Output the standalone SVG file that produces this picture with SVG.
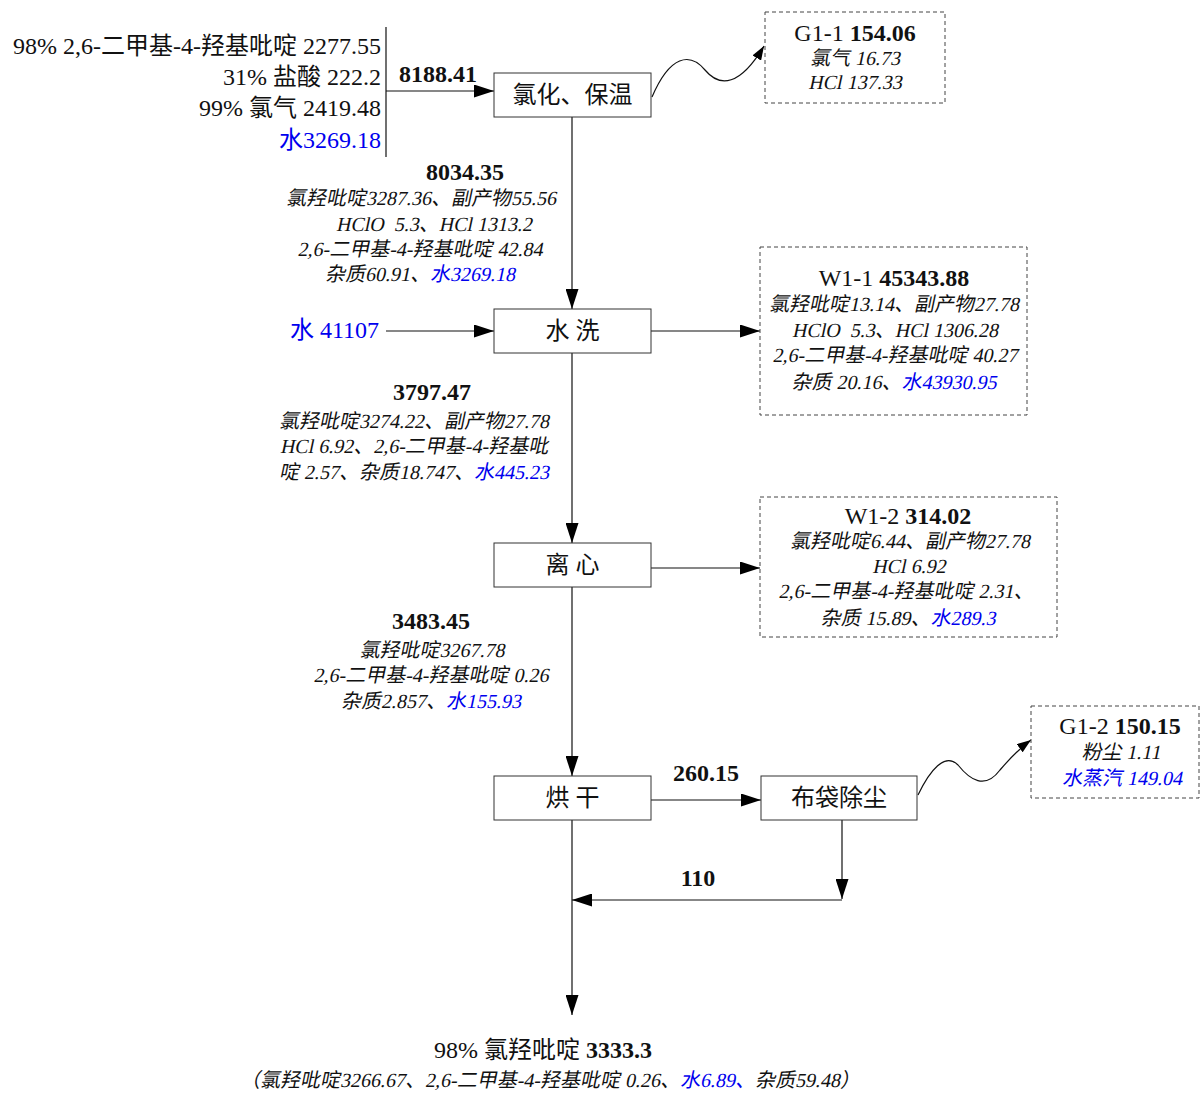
<svg xmlns="http://www.w3.org/2000/svg" width="1201" height="1093" viewBox="0 0 1201 1093">
<style>
text{font-family:"Liberation Serif","Noto Sans CJK SC",serif;fill:#111}
.big{font-size:24px}
.num{font-size:24px;font-weight:bold}
.it{font-size:20px}
.c{text-anchor:middle}
.r{text-anchor:end}
.b{fill:#0000ee}
.bold{font-weight:bold}
.box{fill:#fff;stroke:#333;stroke-width:1}
.dbox{fill:#fff;stroke:#444;stroke-width:1;stroke-dasharray:4 3}
.ln{fill:none;stroke:#111;stroke-width:1.2}
</style>
<defs>
<marker id="ar" markerUnits="userSpaceOnUse" markerWidth="20" markerHeight="13" refX="20" refY="6.5" orient="auto">
<path d="M0,0 L20,6.5 L0,13 z" fill="#000"/>
</marker>
<marker id="ars" markerUnits="userSpaceOnUse" markerWidth="14" markerHeight="10" refX="14" refY="5" orient="auto">
<path d="M0,0 L14,5 L0,10 z" fill="#000"/>
</marker>
</defs>
<g id="connectors">
<path class="ln" d="M386,27 V157"/>
<path class="ln" d="M386,91 H494" marker-end="url(#ar)"/>
<path class="ln" d="M572,117 V309" marker-end="url(#ar)"/>
<path class="ln" d="M386,331 H494" marker-end="url(#ar)"/>
<path class="ln" d="M651,331 H760" marker-end="url(#ar)"/>
<path class="ln" d="M572,353 V543" marker-end="url(#ar)"/>
<path class="ln" d="M651,568 H760" marker-end="url(#ar)"/>
<path class="ln" d="M572,587 V776" marker-end="url(#ar)"/>
<path class="ln" d="M651,800 H761" marker-end="url(#ar)"/>
<path class="ln" d="M842,820 V899" marker-end="url(#ar)"/>
<path class="ln" d="M842,900 H572" marker-end="url(#ar)"/>
<path class="ln" d="M572,820 V1015" marker-end="url(#ar)"/>
<path class="ln" d="M652,97 C670,55 690,52 705,70 C720,88 740,86 764,46" marker-end="url(#ars)"/>
<path class="ln" d="M918,795 C930,770 945,752 958,765 C970,780 985,790 1000,770 C1012,756 1020,748 1031,740" marker-end="url(#ars)"/>
</g>
<g id="inputs">
<text class="big r" x="381" y="54">98% 2,6-二甲基-4-羟基吡啶 2277.55</text>
<text class="big r" x="381" y="85">31% 盐酸 222.2</text>
<text class="big r" x="381" y="116">99% 氯气 2419.48</text>
<text class="big r b" x="381" y="148">水3269.18</text>
<text class="num c" x="438" y="82">8188.41</text>
</g>
<g id="n_chlorination">
<rect class="box" x="494" y="73" width="157" height="44"/>
<text class="big c" x="572.5" y="103">氯化、保温</text>
</g>
<g id="n_G1-1">
<rect class="dbox" x="765" y="12" width="180" height="91"/>
<text class="big c" x="855" y="41">G1-1 <tspan class="bold">154.06</tspan></text>
<text class="it c" transform="translate(855,65) skewX(-12)">氯气 16.73</text>
<text class="it c" transform="translate(855,89) skewX(-12)">HCl 137.33</text>
</g>
<g id="l_8034">
<text class="num c" x="465" y="180">8034.35</text>
<text class="it c" transform="translate(421,205) skewX(-12)">氯羟吡啶3287.36、副产物55.56</text>
<text class="it c" transform="translate(434,231) skewX(-12)">HClO&#160; 5.3、HCl 1313.2</text>
<text class="it c" transform="translate(420,256) skewX(-12)">2,6-二甲基-4-羟基吡啶 42.84</text>
<text class="it c" transform="translate(420,281) skewX(-12)">杂质60.91、<tspan class="b">水3269.18</tspan></text>
</g>
<g id="n_water_in">
<text class="big r b" x="379" y="338">水 41107</text>
</g>
<g id="n_wash">
<rect class="box" x="494" y="309" width="157" height="44"/>
<text class="big c" x="572.5" y="339">水 洗</text>
</g>
<g id="n_W1-1">
<rect class="dbox" x="760" y="247" width="267" height="168"/>
<text class="big c" x="894" y="286">W1-1 <tspan class="bold">45343.88</tspan></text>
<text class="it c" transform="translate(894,311) skewX(-12)">氯羟吡啶13.14、副产物27.78</text>
<text class="it c" transform="translate(895,337) skewX(-12)">HClO&#160; 5.3、HCl 1306.28</text>
<text class="it c" transform="translate(895,362) skewX(-12)">2,6-二甲基-4-羟基吡啶 40.27</text>
<text class="it c" transform="translate(894,389) skewX(-12)">杂质 20.16、<tspan class="b">水43930.95</tspan></text>
</g>
<g id="l_3797">
<text class="num c" x="432" y="400">3797.47</text>
<text class="it c" transform="translate(414,428) skewX(-12)">氯羟吡啶3274.22、副产物27.78</text>
<text class="it c" transform="translate(414,453) skewX(-12)">HCl 6.92、2,6-二甲基-4-羟基吡</text>
<text class="it c" transform="translate(414,479) skewX(-12)">啶 2.57、杂质18.747、<tspan class="b">水445.23</tspan></text>
</g>
<g id="n_centrifuge">
<rect class="box" x="494" y="543" width="157" height="44"/>
<text class="big c" x="572.5" y="573">离 心</text>
</g>
<g id="n_W1-2">
<rect class="dbox" x="760" y="497" width="297" height="140"/>
<text class="big c" x="908" y="524">W1-2 <tspan class="bold">314.02</tspan></text>
<text class="it c" transform="translate(910,548) skewX(-12)">氯羟吡啶6.44、副产物27.78</text>
<text class="it c" transform="translate(909,573) skewX(-12)">HCl 6.92</text>
<text class="it c" transform="translate(906,598) skewX(-12)">2,6-二甲基-4-羟基吡啶 2.31、</text>
<text class="it c" transform="translate(908,625) skewX(-12)">杂质 15.89、<tspan class="b">水289.3</tspan></text>
</g>
<g id="l_3483">
<text class="num c" x="431" y="629">3483.45</text>
<text class="it c" transform="translate(432,657) skewX(-12)">氯羟吡啶3267.78</text>
<text class="it c" transform="translate(431,682) skewX(-12)">2,6-二甲基-4-羟基吡啶 0.26</text>
<text class="it c" transform="translate(431,708) skewX(-12)">杂质2.857、<tspan class="b">水155.93</tspan></text>
</g>
<g id="n_dry">
<rect class="box" x="494" y="776" width="157" height="44"/>
<text class="big c" x="572.5" y="806">烘 干</text>
</g>
<g id="n_bag">
<rect class="box" x="761" y="776" width="156" height="44"/>
<text class="big c" x="839" y="806">布袋除尘</text>
</g>
<g id="l_260">
<text class="num c" x="706" y="781">260.15</text>
<text class="num c" x="698" y="886">110</text>
</g>
<g id="n_G1-2">
<rect class="dbox" x="1031" y="706" width="168" height="92"/>
<text class="big c" x="1120" y="734">G1-2 <tspan class="bold">150.15</tspan></text>
<text class="it c" transform="translate(1121,759) skewX(-12)">粉尘 1.11</text>
<text class="it c b" transform="translate(1122,785) skewX(-12)">水蒸汽 149.04</text>
</g>
<g id="n_product">
<text class="big c" x="543" y="1058">98% 氯羟吡啶 <tspan class="bold">3333.3</tspan></text>
<text class="it c" transform="translate(550,1087) skewX(-12)">（氯羟吡啶3266.67、2,6-二甲基-4-羟基吡啶 0.26、<tspan class="b">水6.89、</tspan>杂质59.48）</text>
</g>
</svg>
